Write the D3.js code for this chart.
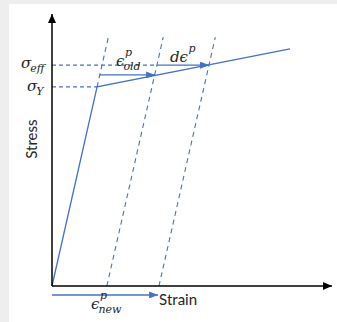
<!DOCTYPE html>
<html>
<head>
<meta charset="utf-8">
<title>Stress - Strain, plastic strain update</title>
<script src="https://cdn.jsdelivr.net/npm/d3@7"></script>
<style>
  body { margin: 0; background: #eeeeee; }
  .sans { font-family: Lato, "Open Sans", sans-serif; fill: #262626; }
  .math { font-family: "DejaVu Serif", serif; font-style: italic; fill: #262626; }
</style>
</head>
<body>
<svg id="chart"></svg>
<script>
// stress-strain curve: elastic up to yield, then linear hardening
const curveStrain = [0, 1.61, 8.5];
const curveStress = [0, 7.32, 8.72];
const sigmaY = 7.32;
const sigmaEff = 8.12;

// elastic (unloading) lines: plastic strain at zero stress, stress where the dash starts
const unloadStrain = [0, 1.96, 3.82];
const unloadFrom = [7.32, 0, 0];
const unloadTop = 9.15;

// horizontal strain arrows
const arrowNames = ["old", "d", "new"];
const arrowStress = [7.76, 8.12, -0.33];
const arrowFrom = [1.71, 3.75, 0];
const arrowTo = [3.68, 5.61, 3.79];

const W = 337, H = 322;
const blue = "#4472c4";
const E = curveStress[1] / curveStrain[1];

const svg = d3.select("#chart").attr("width", W).attr("height", H);

svg.append("rect").attr("x", 9).attr("y", 4)
  .attr("width", W - 9).attr("height", H - 4).attr("fill", "#ffffff");

const x = d3.scaleLinear().domain([0, 10]).range([52, 332]);
const y = d3.scaleLinear().domain([0, 10]).range([286, 14]);

const defs = svg.append("defs");
function marker(id, color, len, wid) {
  defs.append("marker").attr("id", id)
    .attr("viewBox", `0 0 ${len} ${wid}`)
    .attr("refX", len).attr("refY", wid / 2)
    .attr("markerWidth", len).attr("markerHeight", wid)
    .attr("markerUnits", "userSpaceOnUse")
    .attr("orient", "auto")
    .append("path").attr("d", `M0,0L${len},${wid / 2}L0,${wid}Z`).attr("fill", color);
}
marker("axisHead", "#000", 9, 8);
marker("blueHead", blue, 9, 7);

const line = d3.line().x(d => x(d[0])).y(d => y(d[1]));

// dashed guide lines for sigma levels
[sigmaY, sigmaEff].forEach((s, i) => {
  const end = i == 0 ? curveStrain[1] : arrowFrom[1];
  svg.append("path").attr("d", line([[0, s], [end, s]]))
    .attr("stroke", blue).attr("stroke-width", 1.1)
    .attr("stroke-dasharray", "4,3").attr("fill", "none");
});

// elastic unloading lines
unloadStrain.forEach((ep, i) => {
  const s0 = unloadFrom[i];
  svg.append("path")
    .attr("d", line([[ep + s0 / E, s0], [ep + unloadTop / E, unloadTop]]))
    .attr("stroke", blue).attr("stroke-width", 1.1)
    .attr("stroke-dasharray", "5,4").attr("fill", "none");
});

// the curve
svg.append("path")
  .attr("d", line(curveStrain.map((d, i) => [d, curveStress[i]])))
  .attr("stroke", blue).attr("stroke-width", 1.3).attr("fill", "none");

// strain arrows
arrowNames.forEach((n, i) => {
  svg.append("path")
    .attr("d", line([[arrowFrom[i], arrowStress[i]], [arrowTo[i], arrowStress[i]]]))
    .attr("stroke", blue).attr("stroke-width", 1.3).attr("fill", "none")
    .attr("marker-end", "url(#blueHead)");
});

// axes
svg.append("path").attr("d", line([[0, 0], [0, 10]]))
  .attr("stroke", "#000").attr("stroke-width", 1.5).attr("marker-end", "url(#axisHead)");
svg.append("path").attr("d", line([[0, 0], [10, 0]]))
  .attr("stroke", "#000").attr("stroke-width", 1.5).attr("marker-end", "url(#axisHead)");

// axis titles
svg.append("text").attr("class", "sans").attr("font-size", 15)
  .attr("x", x(arrowTo[2]) + 1).attr("y", 305).text("Strain");
svg.append("text").attr("class", "sans").attr("font-size", 15)
  .attr("text-anchor", "middle")
  .attr("transform", `translate(37,${y(5.4)}) rotate(-90)`).text("Stress");

// math labels
function sym(px, py, main, sup, sub, size) {
  const g = svg.append("g").attr("class", "math");
  const t = g.append("text").attr("x", px).attr("y", py).attr("font-size", size).text(main);
  const w = t.node().getComputedTextLength();
  if (sup) g.append("text").attr("x", px + w + 0.5).attr("y", py - 10).attr("font-size", 11).text(sup);
  if (sub) g.append("text").attr("x", px + w - 1).attr("y", py + 4).attr("font-size", 11).text(sub);
}
sym(21, y(sigmaEff) + 3, "σ", null, "eff", 15);
sym(27, y(sigmaY) + 4, "σ", null, "Y", 15);
sym(116, y(arrowStress[0]) - 9, "ϵ", "p", "old", 15);
sym(170, y(arrowStress[1]) - 3, "dϵ", "p", null, 15);
sym(91, y(arrowStress[2]) + 14, "ϵ", "p", "new", 15);
</script>
</body>
</html>
